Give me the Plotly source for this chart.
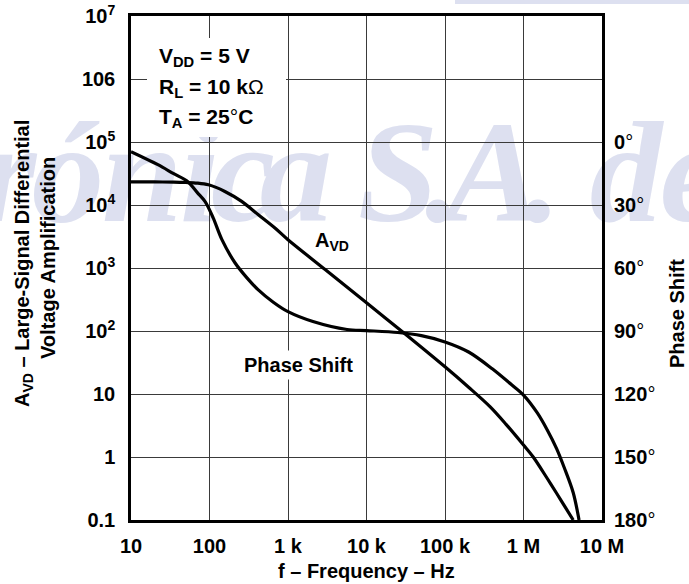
import plotly.graph_objects as go

# ---------------- data ----------------
freq_avd = [10, 20, 35, 50, 70, 97, 157, 257, 419, 682, 1000, 3000, 10000,
            30000, 100000, 200000, 374000, 600000, 1000000, 1330000, 2000000,
            2640000, 3400000, 4300000]
avd_gain = [23200, 23200, 23100, 22800, 22300, 20900, 16400, 11400, 7000, 4310,
            2810, 935, 280, 93, 27, 12.8, 6.3, 3.3, 1.55, 1.0, 0.46, 0.266,
            0.16, 0.1]

freq_phase = [10, 22, 35, 53, 70, 88, 111, 144, 211, 300, 415, 650, 1000, 2080,
              5650, 10000, 25000, 50000, 100000, 200000, 400000, 700000,
              1000000, 1500000, 2000000, 2640000, 3300000, 4300000, 5100000]
phase_deg = [4.6, 10.8, 15.1, 18.9, 24.1, 28.4, 36, 46.5, 57.5, 64.7, 70.3,
             76.3, 80.8, 85.5, 89.3, 89.8, 90.7, 92.2, 95.2, 100, 108, 115.5,
             120.5, 129, 137, 146, 155, 167, 180]

x_tickvals = [10, 100, 1e3, 1e4, 1e5, 1e6, 1e7]
x_ticktext = ["10", "100", "1 k", "10 k", "100 k", "1 M", "10 M"]
y_tickvals = [1e7, 1e6, 1e5, 1e4, 1e3, 1e2, 10, 1, 0.1]
y_ticktext = ["10<sup>7</sup>", "106", "10<sup>5</sup>", "10<sup>4</sup>",
              "10<sup>3</sup>", "10<sup>2</sup>", "10", "1", "0.1"]
phase_tickvals = [0, 30, 60, 90, 120, 150, 180]
DEG = "<span style='font-weight:normal'>°</span>"
phase_ticktext = [f"{v}{DEG}" for v in phase_tickvals]

watermark_letters = ["r", "ó", "n", "i", "c", "a", "S", ".", "A", ".", "d", "e"]

# ---------------- geometry helpers ----------------
W, H = 689, 584
L, R, T, B = 131, 602, 16, 520
def px(x):
    return (x - L) / (R - L)
def py(y):
    return (B - y) / (B - T)

FONT = "Liberation Sans, Arial, Helvetica, sans-serif"
BOLD = dict(family=FONT, size=20, color="black", weight="bold")

fig = go.Figure()
fig.add_trace(go.Scatter(x=freq_avd, y=avd_gain, mode="lines",
                         line=dict(color="black", width=3.2, shape="spline", smoothing=0.9),
                         hoverinfo="skip", showlegend=False))
fig.add_trace(go.Scatter(x=freq_phase, y=phase_deg, mode="lines", yaxis="y2",
                         line=dict(color="black", width=3.2, shape="spline", smoothing=0.9),
                         hoverinfo="skip", showlegend=False))

grid = "#3a3a3a"
fig.update_layout(
    width=W, height=H,
    margin=dict(l=L, r=W - R, t=T, b=H - B, autoexpand=False),
    paper_bgcolor="white", plot_bgcolor="rgba(0,0,0,0)",
    showlegend=False,
    xaxis=dict(type="log", range=[1, 7], tickvals=x_tickvals, ticktext=x_ticktext,
               showgrid=True, gridcolor=grid, gridwidth=1.3, zeroline=False,
               showline=True, linecolor="black", linewidth=2.5, mirror=True,
               ticks="", tickfont=BOLD, ticklabelstandoff=6, automargin=False),
    yaxis=dict(type="log", range=[-1, 7], tickvals=y_tickvals, ticktext=y_ticktext,
               showgrid=True, gridcolor=grid, gridwidth=1.3, zeroline=False,
               showline=True, linecolor="black", linewidth=2.5, mirror=True,
               ticks="", tickfont=BOLD, ticklabelstandoff=9, automargin=False),
    yaxis2=dict(overlaying="y", side="right", range=[180, -60],
                tickvals=phase_tickvals, ticktext=phase_ticktext,
                showgrid=False, zeroline=False, showline=False, ticks="",
                tickfont=BOLD, ticklabelstandoff=11, automargin=False),
)

# faint watermark (below everything)
wm_centers = [8, 68, 142, 200, 243, 296, 398, 443, 494, 543, 626, 692]
shapes = []
for ch, cx in zip(watermark_letters, wm_centers):
    shapes.append(dict(type="rect", xref="paper", yref="paper",
                       x0=px(cx - 40), x1=px(cx + 40), y0=py(226), y1=py(86),
                       line=dict(width=0), fillcolor="rgba(0,0,0,0)", layer="below",
                       label=dict(text=ch, textposition="middle center",
                                  font=dict(family="Liberation Serif, Times New Roman, serif",
                                            size=145, color="#dde0f0",
                                            weight="bold", style="italic"))))
shapes.append(dict(type="rect", xref="paper", yref="paper",
                   x0=px(455), x1=px(689), y0=py(4), y1=py(0),
                   line=dict(width=0), fillcolor="#dde0f0", layer="below"))
# white box behind the conditions text
shapes.append(dict(type="rect", xref="paper", yref="paper",
                   x0=px(147), x1=px(286), y0=py(137), y1=py(38),
                   line=dict(width=0), fillcolor="white", layer="above"))
fig.update_layout(shapes=shapes)

ann = []
def add(text, x, y, xanchor="center", yanchor="middle", angle=0, bg=None, size=20):
    f = dict(BOLD)
    f["size"] = size
    d = dict(text=text, xref="paper", yref="paper", x=px(x), y=py(y),
             xanchor=xanchor, yanchor=yanchor, showarrow=False, font=f,
             textangle=angle)
    if bg:
        d.update(bgcolor=bg, borderpad=3)
    ann.append(d)

add("V<sub>DD</sub> = 5 V", 157, 57, xanchor="left", size=21)
add("R<sub>L</sub> = 10 k<span style='font-weight:normal'>Ω</span>", 157, 88, xanchor="left", size=21)
add(f"T<sub>A</sub> = 25{DEG}C", 157, 118, xanchor="left", size=21)
add("A<sub>VD</sub>", 332, 242)
add("Phase Shift", 298, 365, bg="white")
add("f – Frequency – Hz", 366, 571)
add("A<sub>VD</sub> – Large-Signal Differential", 23, 264, angle=-90)
add("Voltage Amplification", 48, 258, angle=-90)
add("Phase Shift", 677, 314, angle=-90)
fig.update_layout(annotations=ann)

fig.write_html("out.html", config=dict(displayModeBar=False),
               post_script="document.body.style.margin='0';")
